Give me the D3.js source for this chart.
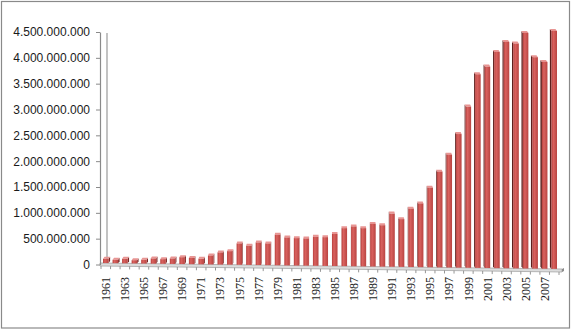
<!DOCTYPE html>
<html><head><meta charset="utf-8">
<script src="https://cdn.jsdelivr.net/npm/d3@7"></script>
<style>html,body{margin:0;padding:0;background:#fff}svg{display:block}</style>
</head><body>
<script>
const years = d3.range(1961, 2009);
const values = [
 110e6, 91e6, 110e6, 83e6, 91e6, 116e6, 103e6, 116e6, 141e6, 126e6,
 110e6, 174e6, 233e6, 258e6, 407e6, 362e6, 426e6, 407e6, 576e6, 523e6,
 510e6, 504e6, 537e6, 529e6, 591e6, 703e6, 736e6, 703e6, 785e6, 760e6,
 985e6, 878e6, 1080e6, 1182e6, 1486e6, 1797e6, 2126e6, 2525e6, 3056e6, 3682e6,
 3831e6, 4114e6, 4308e6, 4277e6, 4483e6, 4012e6, 3921e6, 4521e6
];
const yTicks = d3.range(0, 4.5e9 + 1, 5e8);
const xLabels = years.filter(y => (y - 1961) % 2 === 0);

const W = 572, H = 330;
const svg = d3.select("body").append("svg").attr("width", W).attr("height", H);

svg.append("rect").attr("x", 1.5).attr("y", 1.5).attr("width", 568).attr("height", 326.5)
  .attr("fill", "#fff").attr("stroke", "#8a8a8a").attr("stroke-width", 1.2);

const y = d3.scaleLinear().domain([0, 4.5e9]).range([264.5, 32]);
const x = d3.scaleBand().domain(years).range([101, 559]).paddingInner(0.42).paddingOuter(0.21);

const fmt = v => d3.format(",")(v).replace(/,/g, ".");

// floor
const fx0 = 100, fx1 = 562;
const floorTop = xx => 263 + (xx - fx0) / (fx1 - fx0) * 6;
svg.append("path")
  .attr("d", `M${fx0},${floorTop(fx0)}L${fx1},${floorTop(fx1)}L${fx1},${floorTop(fx1)+3}L${fx0},${floorTop(fx0)+3}Z`)
  .attr("fill", "#dcdcdc").attr("stroke", "#a6a6a6").attr("stroke-width", 0.8);
svg.append("path")
  .attr("d", `M${fx1},${floorTop(fx1)}L${fx1+2},${floorTop(fx1)-1}L${fx1+2},${floorTop(fx1)+2}L${fx1},${floorTop(fx1)+3}Z`)
  .attr("fill", "#8c8c8c");

// back wall line
svg.append("line").attr("x1", 107).attr("x2", 107).attr("y1", 33).attr("y2", 262)
  .attr("stroke", "#9a9a9a").attr("stroke-width", 1.2);

// y axis
const yAxis = d3.axisLeft(y).tickValues(yTicks).tickFormat(fmt).tickSize(4).tickSizeOuter(0);
const gy = svg.append("g").attr("transform", "translate(100,0)").call(yAxis);
gy.select(".domain").attr("stroke", "#8a8a8a").attr("stroke-width", 1.2);
gy.selectAll(".tick line").attr("stroke", "#8a8a8a");
gy.selectAll(".tick text").attr("font-family", "'Liberation Sans', Arial, sans-serif")
  .attr("font-size", 12).attr("fill", "#1a1a1a").attr("x", -10);

// x ticks at category boundaries
const step = x.step();
const bounds = years.map(d => x(d) - (step - x.bandwidth()) / 2).concat([x(2008) + x.bandwidth() + (step - x.bandwidth()) / 2]);
svg.append("g").selectAll("line").data(bounds).join("line")
  .attr("x1", d => d).attr("x2", d => d)
  .attr("y1", d => floorTop(d) + 3).attr("y2", d => floorTop(d) + 6)
  .attr("stroke", "#8a8a8a").attr("stroke-width", 0.9);

// gradient for bar front
const defs = svg.append("defs");
const gr = defs.append("linearGradient").attr("id", "front").attr("x1", 0).attr("x2", 1).attr("y1", 0).attr("y2", 0);
gr.append("stop").attr("offset", "0%").attr("stop-color", "#b8403d");
gr.append("stop").attr("offset", "35%").attr("stop-color", "#d9625f");
gr.append("stop").attr("offset", "100%").attr("stop-color", "#b94441");

// bars
const cxMid = 330;
const bars = svg.append("g");
years.forEach((yr, i) => {
  const v = values[i];
  const x0 = x(yr), w = x.bandwidth(), xc = x0 + w / 2;
  const top = y(v), bot = floorTop(xc);
  const dx = (cxMid - xc) * 0.007, dy = -2;
  const g = bars.append("g");
  // side face
  if (dx > 0) {
    g.append("path").attr("d", `M${x0+w},${top}L${x0+w+dx},${top+dy}L${x0+w+dx},${bot+dy}L${x0+w},${bot}Z`).attr("fill", "#7a2624");
  } else {
    g.append("path").attr("d", `M${x0},${top}L${x0+dx},${top+dy}L${x0+dx},${bot+dy}L${x0},${bot}Z`).attr("fill", "#5e1f1d");
  }
  // top face
  g.append("path").attr("d", `M${x0},${top}L${x0+dx},${top+dy}L${x0+w+dx},${top+dy}L${x0+w},${top}Z`).attr("fill", "#e89593");
  // front
  g.append("rect").attr("x", x0).attr("y", top).attr("width", w).attr("height", Math.max(0, bot - top))
    .attr("fill", "url(#front)");
});

// x labels
svg.append("g").selectAll("text").data(xLabels).join("text")
  .attr("transform", d => `translate(${x(d) + x.bandwidth() / 2},277) rotate(-90)`)
  .attr("text-anchor", "end").attr("dy", "0.35em")
  .attr("font-family", "'Liberation Serif', 'Times New Roman', serif")
  .attr("font-size", 12).attr("fill", "#1a1a1a")
  .text(d => d);
</script>
</body></html>
